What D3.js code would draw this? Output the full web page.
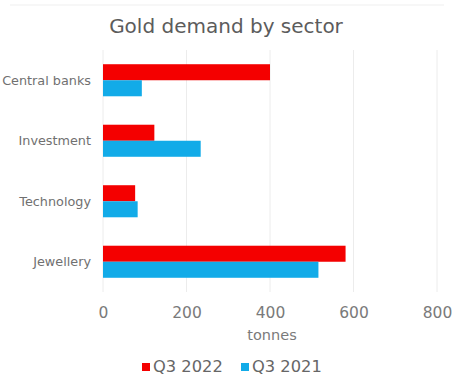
<!DOCTYPE html>
<html>
<head>
<meta charset="utf-8">
<script src="https://cdn.jsdelivr.net/npm/d3@7"></script>
<style>
  body { margin: 0; background: #fff; }
  svg { display: block; font-family: "DejaVu Sans", sans-serif; }
</style>
</head>
<body>
<div id="chart"></div>
<script>
// data
var categories = ["Central banks", "Investment", "Technology", "Jewellery"];
var seriesNames = ["Q3 2022", "Q3 2021"];
var q3_2022 = [400, 123, 77, 581];
var q3_2021 = [93, 234, 83, 516];
var xTicks = [0, 200, 400, 600, 800];

var colors = ["#f40000", "#12abe8"];

var width = 454, height = 377;
var margin = {top: 50, left: 103, right: 17, bottom: 85};

var svg = d3.select("#chart").append("svg")
	.attr("width", width).attr("height", height);

// faint frame line at top
svg.append("line")
	.attr("x1", 10).attr("x2", width - 10)
	.attr("y1", 5).attr("y2", 5)
	.attr("stroke", "#efefef").attr("stroke-width", 1);

var x = d3.scaleLinear().domain([0, 800]).range([margin.left, width - margin.right]);
var y = d3.scaleBand().domain(categories)
	.range([margin.top, height - margin.bottom])
	.paddingInner(0.47).paddingOuter(0.235);
var ySub = d3.scaleBand().domain(seriesNames).range([0, y.bandwidth()]);

// gridlines
svg.append("g").selectAll("line")
	.data(xTicks)
	.join("line")
	.attr("x1", function(d) { return x(d); }).attr("x2", function(d) { return x(d); })
	.attr("y1", margin.top).attr("y2", height - margin.bottom)
	.attr("stroke", "#ececec").attr("stroke-width", 1);

// bars
var seriesValues = [q3_2022, q3_2021];
seriesNames.forEach(function(name, si) {
	svg.append("g").selectAll("rect")
		.data(categories)
		.join("rect")
		.attr("x", x(0))
		.attr("y", function(d) { return y(d) + ySub(name); })
		.attr("width", function(d, i) { return x(seriesValues[si][i]) - x(0); })
		.attr("height", ySub.bandwidth())
		.attr("fill", colors[si]);
});

// category labels (Central banks is clipped at the left edge, as in the original)
svg.append("g").selectAll("text")
	.data(categories)
	.join("text")
	.attr("x", margin.left - 12)
	.attr("y", function(d) { return y(d) + y.bandwidth() / 2; })
	.attr("dy", "0.35em")
	.attr("text-anchor", "end")
	.attr("font-size", 12.8)
	.attr("fill", "#707070")
	.text(function(d) { return d; });

// x axis
var xAxis = d3.axisBottom(x).tickValues(xTicks).tickSize(0).tickPadding(15);
var gx = svg.append("g")
	.attr("transform", "translate(0," + (height - margin.bottom) + ")")
	.call(xAxis);
gx.select(".domain").remove();
gx.selectAll("text")
	.attr("font-size", 15.5)
	.attr("font-family", "DejaVu Sans, sans-serif")
	.attr("fill", "#7a7a7a");

svg.append("text")
	.attr("x", x(400) + 2).attr("y", 335)
	.attr("dy", "0.35em")
	.attr("text-anchor", "middle")
	.attr("font-size", 14.5)
	.attr("fill", "#7a7a7a")
	.text("tonnes");

// title
svg.append("text")
	.attr("x", 226).attr("y", 33)
	.attr("text-anchor", "middle")
	.attr("font-size", 20)
	.attr("fill", "#5c5c5c")
	.text("Gold demand by sector");

// legend
var legendPos = [142, 241];
var lg = svg.append("g").selectAll("g")
	.data(seriesNames)
	.join("g")
	.attr("transform", function(d, i) { return "translate(" + legendPos[i] + ",366)"; });
lg.append("rect")
	.attr("x", 0).attr("y", -3)
	.attr("width", 8).attr("height", 8)
	.attr("fill", function(d, i) { return colors[i]; });
lg.append("text")
	.attr("x", 11).attr("y", 0)
	.attr("dy", "0.35em")
	.attr("font-size", 16.3)
	.attr("fill", "#666")
	.text(function(d) { return d; });
</script>
</body>
</html>
